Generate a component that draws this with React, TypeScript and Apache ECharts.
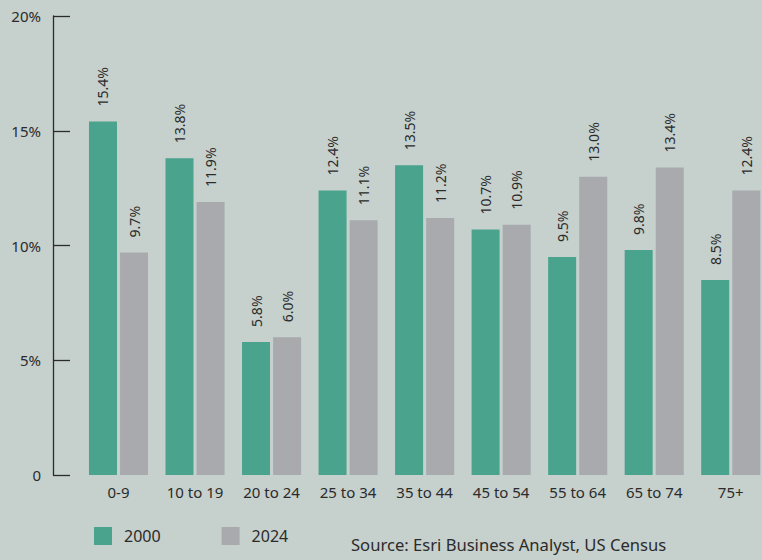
import React, { useEffect, useRef } from "react";
import * as echarts from "echarts";

const categories = ["0-9", "10 to 19", "20 to 24", "25 to 34", "35 to 44", "45 to 54", "55 to 64", "65 to 74", "75+"];
const values2000 = [15.4, 13.8, 5.8, 12.4, 13.5, 10.7, 9.5, 9.8, 8.5];
const values2024 = [9.7, 11.9, 6.0, 11.1, 11.2, 10.9, 13.0, 13.4, 12.4];
const seriesNames = ["2000", "2024"];
const sourceText = "Source: Esri Business Analyst, US Census";

const FONT = "'Noto Sans', sans-serif";
const TEXT = "#2b2b2b";
const BG = "#c6d0cc";

export default function App() {
  const ref = useRef<HTMLDivElement>(null);
  useEffect(() => {
    if (!ref.current) return;
    const chart = echarts.init(ref.current, undefined, { renderer: "svg" });
    const label = {
      show: true,
      position: "top",
      rotate: 90,
      align: "left",
      verticalAlign: "middle",
      distance: 15,
      color: TEXT,
      fontSize: 14,
      fontFamily: FONT,
      formatter: (p: any) => Number(p.value).toFixed(1) + "%",
    };
    chart.setOption({
      animation: false,
      backgroundColor: BG,
      textStyle: { fontFamily: FONT },
      grid: { left: 80.25, right: 0, top: 16, bottom: 85, containLabel: false },
      legend: {
        left: 89,
        top: 522,
        itemWidth: 18,
        itemHeight: 18,
        itemGap: 61,
        icon: "rect",
        data: seriesNames,
        textStyle: { color: TEXT, fontSize: 16, fontFamily: FONT, padding: [4, 0, 0, 7] },
      },
      xAxis: {
        type: "category",
        data: categories,
        axisLine: { show: false },
        axisTick: { show: false },
        axisLabel: { color: TEXT, fontSize: 15, fontFamily: FONT, margin: 9 },
      },
      yAxis: {
        type: "value",
        min: 0,
        max: 20,
        interval: 5,
        offset: 27.25,
        axisLine: { show: true, lineStyle: { color: "#2b2b2b", width: 1.3 } },
        axisTick: { show: true, inside: true, length: 17, lineStyle: { color: "#2b2b2b", width: 1.3 } },
        splitLine: { show: false },
        axisLabel: {
          color: TEXT,
          fontSize: 15,
          fontFamily: FONT,
          margin: 12,
          formatter: (v: number) => (v === 0 ? "0" : v + "%"),
        },
      },
      series: [
        {
          name: seriesNames[0],
          type: "bar",
          data: values2000,
          barWidth: 28,
          barGap: "11%",
          itemStyle: { color: "#4aa38c" },
          label,
        },
        {
          name: seriesNames[1],
          type: "bar",
          data: values2024,
          barWidth: 28,
          barGap: "11%",
          itemStyle: { color: "#a9aaae" },
          label,
        },
      ],
      graphic: [
        {
          type: "text",
          left: 351,
          top: 536,
          style: { text: sourceText, fill: TEXT, fontSize: 16.6, fontFamily: FONT },
        },
      ],
    });
    return () => chart.dispose();
  }, []);
  return (
    <div style={{ position: "absolute", left: 0, top: 0, width: 762, height: 560, overflow: "hidden", background: BG }}>
      <div ref={ref} style={{ position: "absolute", left: 0, top: 0, width: 769, height: 560 }} />
    </div>
  );
}
